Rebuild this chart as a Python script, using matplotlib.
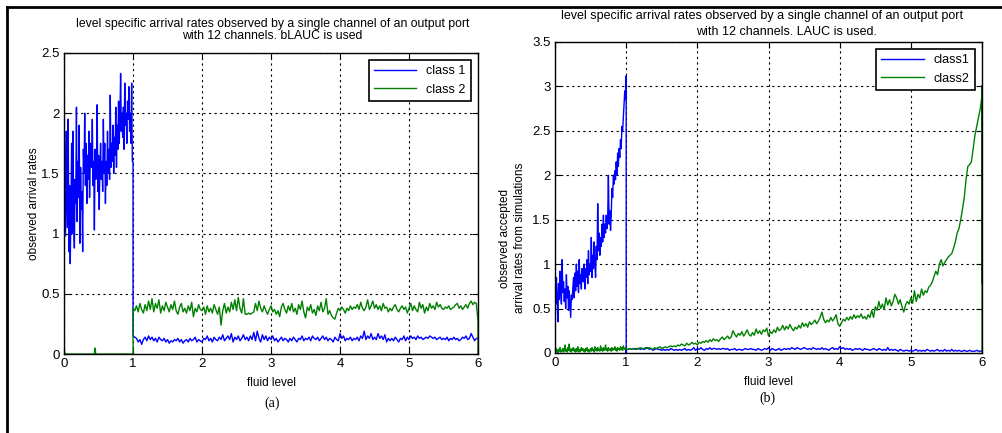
import numpy as np
import matplotlib
matplotlib.use("Agg")
import matplotlib.pyplot as plt
from matplotlib.lines import Line2D

plt.rcParams['font.family'] = ['Liberation Sans', 'DejaVu Sans']

# fluid level samples
x_low = np.linspace(0, 1, 101)
x_high = np.linspace(1, 6, 201)

# ---- (a) bLAUC ----
a_class1_low = [
    1.0, 1.85, 0.98, 1.3, 1.85, 1.05, 1.95, 0.85, 1.4, 0.75,
    1.2, 1.75, 1.0, 1.85, 1.1, 0.88, 1.45, 1.25, 2.05, 1.1,
    1.6, 1.3, 1.9, 0.92, 1.55, 1.2, 1.35, 0.85, 1.7, 1.5,
    2.0, 1.4, 1.75, 1.25, 1.65, 1.45, 1.85, 1.3, 1.6, 1.75,
    1.55, 1.95, 1.4, 1.6, 1.03, 1.7, 1.45, 1.55, 2.07, 1.35,
    1.65, 1.2, 1.55, 1.75, 1.45, 1.6, 1.35, 1.95, 1.5, 1.75,
    1.25, 1.6, 1.4, 1.85, 1.5, 1.7, 1.45, 2.15, 1.55, 1.75,
    1.6, 1.9, 1.5, 1.8, 1.65, 2.05, 1.55, 1.9, 1.7, 2.1,
    1.75, 1.95, 2.33, 1.85, 2.0, 1.8, 2.05, 1.7, 2.25, 1.9,
    2.0, 1.75, 2.1, 1.95, 2.22, 1.85, 2.0, 1.75, 2.25, 1.6,
    1.6]
a_class1_high = [
    0.15, 0.14, 0.13, 0.10, 0.12, 0.08, 0.12, 0.14, 0.11, 0.15,
    0.12, 0.14, 0.11, 0.13, 0.10, 0.14, 0.12, 0.11, 0.13, 0.10,
    0.12, 0.09, 0.11, 0.10, 0.12, 0.11, 0.13, 0.10, 0.12, 0.09,
    0.11, 0.12, 0.10, 0.13, 0.11, 0.12, 0.14, 0.10, 0.12, 0.11,
    0.10, 0.13, 0.12, 0.15, 0.11, 0.13, 0.10, 0.14, 0.12, 0.11,
    0.14, 0.12, 0.16, 0.11, 0.13, 0.15, 0.12, 0.17, 0.10, 0.14,
    0.12, 0.15, 0.11, 0.13, 0.16, 0.12, 0.14, 0.11, 0.15, 0.12,
    0.18, 0.11, 0.19, 0.13, 0.10, 0.16, 0.12, 0.15, 0.11, 0.14,
    0.12, 0.15, 0.11, 0.13, 0.10, 0.12, 0.14, 0.11, 0.13, 0.12,
    0.10, 0.13, 0.11, 0.14, 0.12, 0.10, 0.13, 0.12, 0.15, 0.11,
    0.13, 0.12, 0.14, 0.11, 0.15, 0.13, 0.12, 0.14, 0.11, 0.13,
    0.15, 0.12, 0.14, 0.11, 0.13, 0.12, 0.10, 0.14, 0.12, 0.11,
    0.17, 0.13, 0.15, 0.11, 0.13, 0.12, 0.14, 0.11, 0.13, 0.12,
    0.14, 0.11, 0.15, 0.13, 0.19, 0.12, 0.15, 0.13, 0.17, 0.12,
    0.14, 0.12, 0.17, 0.13, 0.15, 0.12, 0.16, 0.10, 0.13, 0.11,
    0.13, 0.11, 0.14, 0.12, 0.10, 0.13, 0.12, 0.15, 0.11, 0.14,
    0.12, 0.15, 0.13, 0.14, 0.12, 0.15, 0.13, 0.14, 0.12, 0.13,
    0.14, 0.13, 0.15, 0.14, 0.13, 0.14, 0.12, 0.13, 0.14, 0.12,
    0.13, 0.12, 0.14, 0.11, 0.13, 0.12, 0.14, 0.12, 0.13, 0.11,
    0.12, 0.14, 0.13, 0.15, 0.12, 0.13, 0.17, 0.14, 0.11, 0.13,
    0.13]
a_class2_low_x = [0.0, 0.01, 0.44, 0.45, 0.46, 1.0]
a_class2_low = [0.08, 0.0, 0.0, 0.05, 0.0, 0.0]
a_class2_high = [
    0.38, 0.36, 0.40, 0.35, 0.42, 0.37, 0.34, 0.41, 0.36, 0.44,
    0.37, 0.46, 0.35, 0.42, 0.38, 0.45, 0.34, 0.40, 0.36, 0.43,
    0.39, 0.35, 0.41, 0.37, 0.44, 0.36, 0.33, 0.39, 0.42, 0.35,
    0.38, 0.34, 0.40, 0.36, 0.43, 0.31, 0.38, 0.35, 0.41, 0.37,
    0.36, 0.39, 0.33, 0.40, 0.35, 0.38, 0.34, 0.41, 0.37, 0.33,
    0.39, 0.24, 0.36, 0.42, 0.34, 0.39, 0.35, 0.43, 0.37, 0.45,
    0.36, 0.47, 0.38, 0.34, 0.46, 0.33, 0.33, 0.34, 0.33, 0.34,
    0.35, 0.42, 0.36, 0.44, 0.38, 0.35, 0.40, 0.36, 0.33, 0.37,
    0.40, 0.35, 0.37, 0.33, 0.36, 0.31, 0.39, 0.42, 0.37, 0.34,
    0.40, 0.36, 0.42, 0.35, 0.38, 0.33, 0.41, 0.37, 0.44, 0.35,
    0.30, 0.39, 0.36, 0.41, 0.34, 0.37, 0.32, 0.40, 0.36, 0.43,
    0.35, 0.38, 0.46, 0.33, 0.36, 0.32, 0.30, 0.29, 0.34, 0.38,
    0.36, 0.39, 0.37, 0.34, 0.38, 0.36, 0.40, 0.37, 0.39, 0.38,
    0.41, 0.37, 0.43, 0.38, 0.36, 0.39, 0.45, 0.37, 0.40, 0.44,
    0.38, 0.41, 0.37, 0.40, 0.36, 0.42, 0.38, 0.39, 0.35, 0.38,
    0.36, 0.39, 0.41, 0.37, 0.35, 0.38, 0.40, 0.37, 0.39, 0.34,
    0.38, 0.42, 0.36, 0.40, 0.37, 0.35, 0.43, 0.38, 0.41, 0.34,
    0.39, 0.36, 0.42, 0.38, 0.40, 0.37, 0.43, 0.39, 0.41, 0.38,
    0.37, 0.39, 0.38, 0.40, 0.37, 0.38, 0.39, 0.41, 0.42, 0.38,
    0.40, 0.37, 0.39, 0.41, 0.38, 0.42, 0.44, 0.41, 0.43, 0.42,
    0.27]

# ---- (b) LAUC ----
b_class1_low = [
    0.9, 0.55, 0.85, 0.62, 0.35, 0.78, 0.6, 0.92, 0.7, 0.55,
    1.05, 0.68, 0.8, 0.58, 0.72, 0.5, 0.88, 0.62, 0.75, 0.48,
    0.7, 0.55, 0.4, 0.65, 0.6, 0.72, 0.85, 0.62, 0.9, 0.7,
    1.0, 0.75, 0.92, 0.68, 1.05, 0.78, 0.88, 0.72, 0.95, 0.82,
    0.8, 1.0, 0.72, 0.95, 0.85, 1.05, 0.78, 1.15, 0.88, 1.0,
    0.92, 1.3, 0.85, 1.1, 0.95, 1.25, 1.0, 0.85, 1.2, 1.05,
    1.68, 1.15, 1.35, 1.1, 1.3, 1.2, 1.45, 1.25, 1.55, 1.3,
    1.45, 1.35, 1.55, 1.4, 1.5, 2.0, 1.45, 1.6, 1.38, 1.55,
    1.85, 1.75, 2.0, 1.9, 2.05, 1.95, 2.15, 2.0, 2.25, 2.1,
    2.3, 2.2, 2.4, 2.3, 2.55, 2.5, 2.65, 2.8, 2.95, 2.85,
    3.12]
b_class1_high = [
    0.04, 0.04, 0.05, 0.04, 0.05, 0.04, 0.05, 0.05, 0.04, 0.05,
    0.04, 0.05, 0.06, 0.04, 0.05, 0.03, 0.04, 0.05, 0.04, 0.04,
    0.03, 0.04, 0.03, 0.04, 0.03, 0.05, 0.04, 0.03, 0.04, 0.03,
    0.04, 0.03, 0.04, 0.05, 0.03, 0.04, 0.03, 0.04, 0.06, 0.03,
    0.05, 0.04, 0.06, 0.04, 0.03, 0.05, 0.04, 0.06, 0.04, 0.05,
    0.05, 0.04, 0.05, 0.04, 0.05, 0.05, 0.04, 0.05, 0.03, 0.04,
    0.04, 0.05, 0.03, 0.04, 0.04, 0.03, 0.04, 0.05, 0.04, 0.04,
    0.05, 0.04, 0.04, 0.03, 0.05, 0.04, 0.03, 0.04, 0.05, 0.04,
    0.06, 0.03, 0.05, 0.04, 0.03, 0.04, 0.05, 0.03, 0.04, 0.05,
    0.04, 0.05, 0.04, 0.06, 0.05, 0.04, 0.06, 0.05, 0.04, 0.05,
    0.06, 0.05, 0.04, 0.05, 0.04, 0.06, 0.05, 0.04, 0.05, 0.04,
    0.06, 0.04, 0.05, 0.04, 0.03, 0.05, 0.06, 0.04, 0.05, 0.04,
    0.07, 0.05, 0.06, 0.04, 0.05, 0.04, 0.05, 0.03, 0.04, 0.05,
    0.04, 0.05, 0.04, 0.03, 0.05, 0.04, 0.04, 0.03, 0.04, 0.05,
    0.04, 0.03, 0.05, 0.04, 0.03, 0.04, 0.03, 0.06, 0.03, 0.04,
    0.03, 0.04, 0.03, 0.02, 0.04, 0.03, 0.02, 0.03, 0.03, 0.02,
    0.03, 0.02, 0.03, 0.04, 0.02, 0.03, 0.02, 0.03, 0.02, 0.04,
    0.03, 0.02, 0.03, 0.02, 0.03, 0.04, 0.02, 0.03, 0.02, 0.04,
    0.02, 0.03, 0.02, 0.04, 0.02, 0.03, 0.02, 0.03, 0.02, 0.02,
    0.03, 0.02, 0.02, 0.03, 0.02, 0.02, 0.02, 0.03, 0.02, 0.02,
    0.02]
b_class2_low = [
    0.03, 0.01, 0.05, 0.02, 0.0, 0.04, 0.02, 0.06, 0.01, 0.03,
    0.02, 0.05, 0.01, 0.03, 0.09, 0.02, 0.04, 0.01, 0.06, 0.03,
    0.10, 0.02, 0.04, 0.01, 0.05, 0.03, 0.06, 0.02, 0.04, 0.01,
    0.05, 0.02, 0.07, 0.03, 0.01, 0.04, 0.02, 0.06, 0.03, 0.05,
    0.02, 0.04, 0.01, 0.05, 0.03, 0.06, 0.02, 0.04, 0.01, 0.03,
    0.05, 0.02, 0.06, 0.03, 0.04, 0.01, 0.07, 0.03, 0.05, 0.02,
    0.06, 0.03, 0.04, 0.02, 0.08, 0.03, 0.05, 0.02, 0.06, 0.03,
    0.04, 0.09, 0.03, 0.05, 0.02, 0.06, 0.04, 0.03, 0.05, 0.02,
    0.06, 0.03, 0.05, 0.04, 0.07, 0.03, 0.05, 0.02, 0.06, 0.04,
    0.05, 0.03, 0.07, 0.04, 0.06, 0.03, 0.08, 0.05, 0.04, 0.06,
    0.04]
b_class2_high = [
    0.04, 0.04, 0.05, 0.04, 0.05, 0.05, 0.04, 0.05, 0.06, 0.05,
    0.05, 0.06, 0.05, 0.06, 0.05, 0.04, 0.06, 0.05, 0.06, 0.07,
    0.05, 0.06, 0.07, 0.06, 0.07, 0.08, 0.07, 0.08, 0.07, 0.09,
    0.08, 0.10, 0.09, 0.08, 0.11, 0.09, 0.10, 0.12, 0.10, 0.11,
    0.09, 0.12, 0.11, 0.13, 0.12, 0.14, 0.12, 0.15, 0.13, 0.16,
    0.14, 0.15, 0.13, 0.16, 0.18, 0.15, 0.17, 0.19, 0.16, 0.18,
    0.25, 0.21, 0.18, 0.22, 0.20, 0.24, 0.19, 0.22, 0.26, 0.21,
    0.19, 0.23, 0.20, 0.27, 0.22, 0.25, 0.21, 0.26, 0.24, 0.28,
    0.19, 0.24, 0.22, 0.26, 0.23, 0.29, 0.25, 0.27, 0.31, 0.26,
    0.30, 0.27, 0.32, 0.28, 0.25, 0.29, 0.27, 0.31, 0.28, 0.34,
    0.30, 0.33, 0.29, 0.35, 0.32, 0.34, 0.37, 0.33, 0.36, 0.40,
    0.46, 0.38, 0.34, 0.37, 0.35, 0.40, 0.36, 0.39, 0.43, 0.33,
    0.30, 0.34, 0.38, 0.36, 0.40, 0.37, 0.41, 0.38, 0.43, 0.39,
    0.42, 0.40, 0.44, 0.39, 0.41, 0.38, 0.43, 0.40, 0.48, 0.40,
    0.52, 0.48, 0.58, 0.50, 0.55, 0.49, 0.62, 0.54, 0.60, 0.53,
    0.58, 0.66, 0.62, 0.55, 0.60, 0.52, 0.46, 0.54, 0.58, 0.55,
    0.62, 0.56, 0.70, 0.58, 0.66, 0.62, 0.72, 0.65, 0.70, 0.68,
    0.74, 0.76, 0.80, 0.86, 0.92, 0.88, 1.00, 1.05, 0.98, 1.02,
    1.05, 1.08, 1.10, 1.12, 1.18, 1.25, 1.35, 1.40, 1.50, 1.62,
    1.75, 1.95, 2.10, 2.12, 2.15, 2.30, 2.45, 2.55, 2.65, 2.75,
    2.90]
# readings stacked on the last level
b_class2_end = [3.0, 0.8, 0.0]

blue = (0, 0, 1)
green = (0, 0.5, 0)
lw = 1.0

fig = plt.figure(figsize=(10.02, 4.33), dpi=100)
ax1 = fig.add_axes([0.0639, 0.1824, 0.4132, 0.6952])
ax2 = fig.add_axes([0.5539, 0.1848, 0.4262, 0.7183])

ax1.plot(np.r_[x_low, x_high], np.r_[a_class1_low, a_class1_high],
         color=blue, lw=lw, label='class 1')
ax1.plot(np.r_[a_class2_low_x, x_high, 6.0], np.r_[a_class2_low, a_class2_high, 0.0],
         color=green, lw=lw, label='class 2')
ax1.set_ylim(0, 2.5)
ax1.set_yticks([0, 0.5, 1, 1.5, 2, 2.5])
ax1.set_yticklabels(['0', '0.5', '1', '1.5', '2', '2.5'])

ax2.plot(np.r_[x_low, 1.0, x_high], np.r_[b_class1_low, 0.0, b_class1_high],
         color=blue, lw=lw, label='class1')
ax2.plot(np.r_[x_low, x_high, [6.0] * len(b_class2_end)],
         np.r_[b_class2_low, b_class2_high, b_class2_end],
         color=green, lw=lw, label='class2')
ax2.plot([6.0, 6.0], [3.0, 0.8], color=(0, 0.35, 0), lw=2.0)
ax2.set_ylim(0, 3.5)
ax2.set_yticks([0, 0.5, 1, 1.5, 2, 2.5, 3, 3.5])
ax2.set_yticklabels(['0', '0.5', '1', '1.5', '2', '2.5', '3', '3.5'])

for ax in (ax1, ax2):
    ax.set_xlim(0, 6)
    ax.set_xticks(range(7))
    ax.grid(True, color='black', linestyle=(0, (2, 3)), linewidth=0.8)
    ax.tick_params(direction='in', top=True, right=True, labelsize=9.5, length=4, pad=3)
    for s in ax.spines.values():
        s.set_linewidth(1.0)
    ax.set_xlabel('fluid level', fontsize=8.5, labelpad=5)
    leg = ax.legend(loc='upper right', fontsize=9, fancybox=False, framealpha=1,
                    edgecolor='black', handlelength=3.4, borderaxespad=0.6)
    leg.get_frame().set_linewidth(1.2)

ax1.set_ylabel('observed arrival rates', fontsize=8.5, labelpad=1)
fig.text(0.504, 0.45, 'observed accepted', rotation=90, ha='center', va='center', fontsize=8.5)
fig.text(0.519, 0.45, 'arrival rates from simulations', rotation=90, ha='center', va='center', fontsize=8.5)

# titles
fig.text(0.272, 1 - 24 / 433, 'level specific arrival rates observed by a single channel of an output port',
         ha='center', va='center', fontsize=8.8)
fig.text(0.272, 1 - 36 / 433, 'with 12 channels. bLAUC is used', ha='center', va='center', fontsize=8.8)
fig.text(0.761, 1 - 16 / 433, 'level specific arrival rates observed by a single channel of an output port',
         ha='center', va='center', fontsize=9.0)
fig.text(0.785, 1 - 32 / 433, 'with 12 channels. LAUC is used.', ha='center', va='center', fontsize=9.0)

# sub-figure captions
fig.text(0.272, 1 - 403 / 433, '(a)', ha='center', va='center', fontsize=10, family='Liberation Serif')
fig.text(0.766, 1 - 398 / 433, '(b)', ha='center', va='center', fontsize=10, family='Liberation Serif')

# outer frame
fig.add_artist(Line2D([7 / 1002, 1], [1 - 7 / 433, 1 - 7 / 433], color='black', lw=2))
fig.add_artist(Line2D([7 / 1002, 7 / 1002], [0, 1 - 7 / 433], color='black', lw=2))

fig.savefig('out.png', dpi=100)
